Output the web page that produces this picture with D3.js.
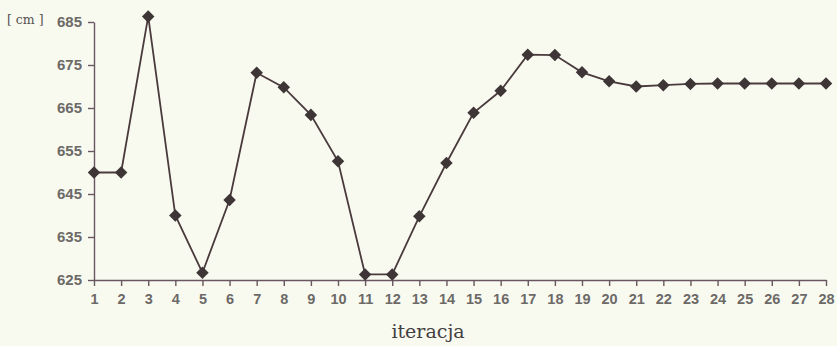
<!DOCTYPE html>
<html><head><meta charset="utf-8">
<script src="https://cdn.jsdelivr.net/npm/d3@7/dist/d3.min.js"></script>
<style>
html,body{margin:0;padding:0;background:#f8faf0;}
svg{display:block;}
</style></head>
<body>
<script>
const iterations = d3.range(1, 29);
const values = [650, 650, 686.3, 640, 626.7, 643.6, 673.2, 669.8, 663.4, 652.6,
  626.3, 626.3, 639.8, 652.2, 663.9, 669.0, 677.4, 677.3, 673.3, 671.2,
  670.0, 670.3, 670.6, 670.7, 670.7, 670.7, 670.7, 670.7];
const yTicks = [625, 635, 645, 655, 665, 675, 685];
const yUnit = "[ cm ]";
const xTitle = "iteracja";

const W = 837, H = 346;
const svg = d3.select("body").append("svg").attr("width", W).attr("height", H);

const x = d3.scaleLinear().domain([1, 28]).range([94, 826]);
const y = d3.scaleLinear().domain([625, 685]).range([280, 22]);

const axisColor = "#6a5660";
const labelColor = "#4a4646";
const sans = "'Liberation Sans', Arial, sans-serif";
const serif = "'DejaVu Serif', 'Liberation Serif', serif";

// Y axis
const gy = svg.append("g").attr("transform", "translate(94,0)")
  .call(d3.axisLeft(y).tickValues(yTicks).tickSize(6).tickSizeOuter(0).tickPadding(6));
gy.select(".domain").attr("stroke", axisColor).attr("stroke-width", 1.4);
gy.selectAll(".tick line").attr("stroke", axisColor).attr("stroke-width", 1.4);
gy.selectAll(".tick text").attr("fill", labelColor)
  .style("font-family", sans).style("font-size", "15px").style("font-weight", "bold").style("opacity", 0.8);

// X axis
const gx = svg.append("g").attr("transform", "translate(0,280)")
  .call(d3.axisBottom(x).tickValues(iterations).tickFormat(d3.format("d")).tickSize(6).tickSizeOuter(0).tickPadding(8));
gx.select(".domain").attr("stroke", axisColor).attr("stroke-width", 1.4);
gx.selectAll(".tick line").attr("stroke", axisColor).attr("stroke-width", 1.4);
gx.selectAll(".tick text").attr("fill", labelColor)
  .style("font-family", sans).style("font-size", "14.5px").style("font-weight", "bold").style("opacity", 0.8);

// Line
svg.append("path").datum(values)
  .attr("fill", "none").attr("stroke", "#4a3a3c").attr("stroke-width", 1.8)
  .attr("d", d3.line().x((d, i) => x(iterations[i])).y(d => y(d)));

// Markers
svg.append("g").selectAll("path").data(values).join("path")
  .attr("transform", (d, i) => `translate(${x(iterations[i])},${y(d)})`)
  .attr("d", d3.symbol(d3.symbolDiamond2, 100))
  .attr("fill", "#3e3636");

// Unit label
svg.append("text").attr("x", 7).attr("y", 24)
  .attr("fill", "#555050")
  .style("font-family", serif).style("font-size", "12.5px")
  .text(yUnit);

// X title
svg.append("text").attr("x", 428).attr("y", 338).attr("text-anchor", "middle")
  .attr("fill", "#444040")
  .style("font-family", serif).style("font-size", "19px")
  .text(xTitle);
</script>
</body></html>
